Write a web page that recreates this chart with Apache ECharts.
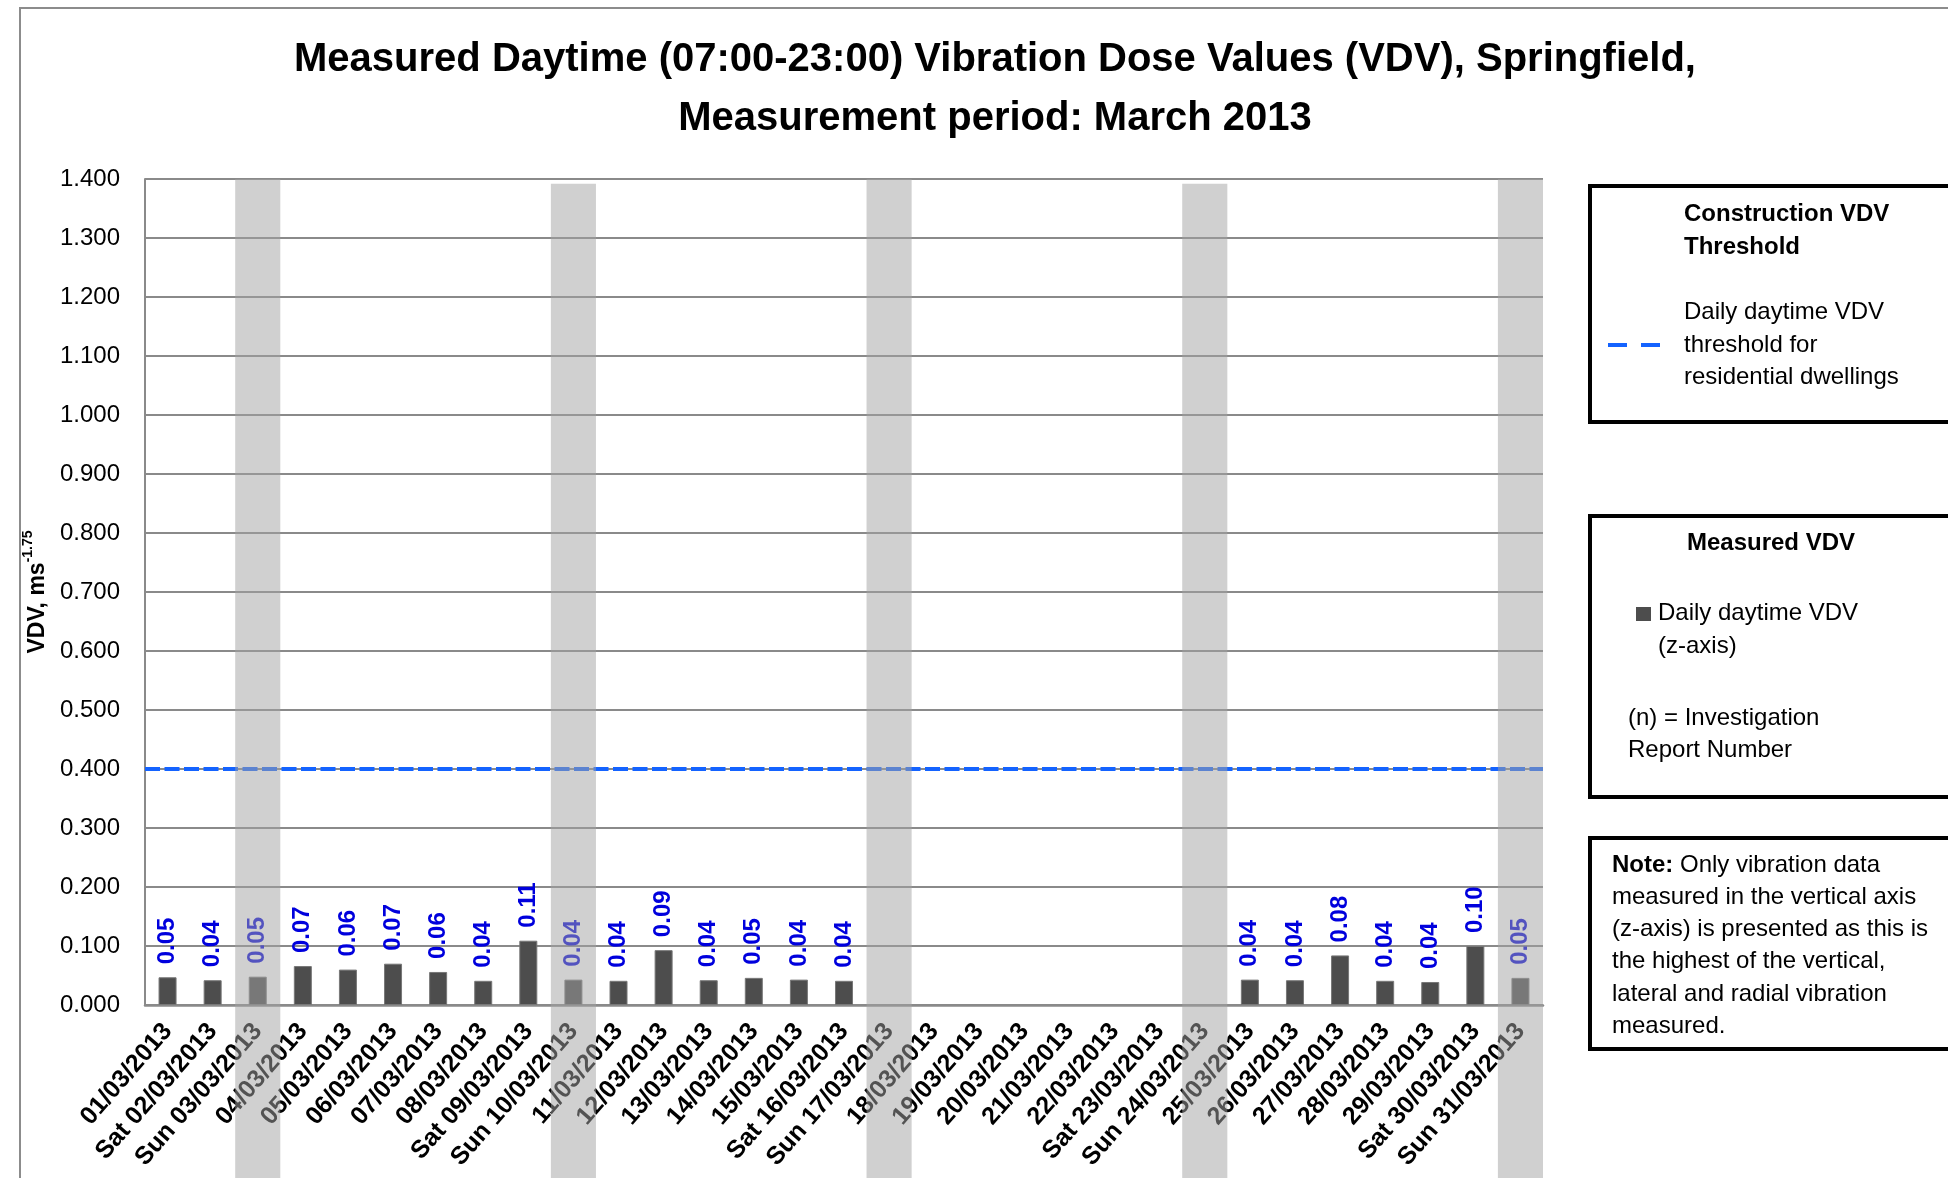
<!DOCTYPE html>
<html><head><meta charset="utf-8">
<script src="https://cdn.jsdelivr.net/npm/echarts@6/dist/echarts.min.js"></script>
<style>html,body{margin:0;padding:0;background:#fff}#c{width:1948px;height:1178px}</style>
</head><body><div id="c"></div>
<script>
const categories = ['01/03/2013','Sat 02/03/2013','Sun 03/03/2013','04/03/2013','05/03/2013','06/03/2013','07/03/2013','08/03/2013','Sat 09/03/2013','Sun 10/03/2013','11/03/2013','12/03/2013','13/03/2013','14/03/2013','15/03/2013','Sat 16/03/2013','Sun 17/03/2013','18/03/2013','19/03/2013','20/03/2013','21/03/2013','22/03/2013','Sat 23/03/2013','Sun 24/03/2013','25/03/2013','26/03/2013','27/03/2013','28/03/2013','29/03/2013','Sat 30/03/2013','Sun 31/03/2013'];
const dailyVDV = [0.047,0.042,0.048,0.066,0.060,0.070,0.056,0.041,0.109,0.043,0.041,0.093,0.042,0.046,0.043,0.041,null,null,null,null,null,null,null,null,0.043,0.042,0.084,0.041,0.039,0.100,0.046];
const weekendBands = ['Sun 03/03/2013','Sun 10/03/2013','Sun 17/03/2013','Sun 24/03/2013','Sun 31/03/2013'];
const bandTop = [1.4, 1.392, 1.4, 1.392, 1.4];
const threshold = 0.4;
const yMin = 0, yMax = 1.4, yInterval = 0.1;

const FONT = "'Liberation Sans', Arial, sans-serif";
const chart = echarts.init(document.getElementById('c'), null, {renderer: 'canvas'});

function txt(x, y, text, opts) {
  return {type: 'text', x: x, y: y, silent: true, style: Object.assign({text: text, fontFamily: FONT, fontSize: 24, fill: '#000', align: 'left', verticalAlign: 'middle'}, opts || {})};
}

const graphics = [
  {type: 'rect', silent: true, z: -10, shape: {x: 20, y: 8, width: 2100, height: 1400}, style: {fill: 'none', stroke: '#8c8c8c', lineWidth: 2}},
  txt(995, 60, 'Measured Daytime (07:00-23:00) Vibration Dose Values (VDV), Springfield,', {fontSize: 40, fontWeight: 'bold', align: 'center'}),
  txt(995, 119, 'Measurement period: March 2013', {fontSize: 40, fontWeight: 'bold', align: 'center'}),
  // legend box 1
  {type: 'rect', silent: true, shape: {x: 1590, y: 186, width: 500, height: 236}, style: {fill: '#fff', stroke: '#000', lineWidth: 4}},
  txt(1684, 214, 'Construction VDV', {fontWeight: 'bold'}),
  txt(1684, 247, 'Threshold', {fontWeight: 'bold'}),
  txt(1684, 312, 'Daily daytime VDV'),
  txt(1684, 345, 'threshold for'),
  txt(1684, 377, 'residential dwellings'),
  {type: 'line', silent: true, shape: {x1: 1608, y1: 345, x2: 1662, y2: 345}, style: {stroke: '#1463ff', lineWidth: 4, lineDash: [19, 14]}},
  // legend box 2
  {type: 'rect', silent: true, shape: {x: 1590, y: 516, width: 500, height: 281}, style: {fill: '#fff', stroke: '#000', lineWidth: 4}},
  txt(1771, 543, 'Measured VDV', {fontWeight: 'bold', align: 'center'}),
  {type: 'rect', silent: true, shape: {x: 1636, y: 607, width: 15, height: 14}, style: {fill: '#4d4d4d'}},
  txt(1658, 613, 'Daily daytime VDV'),
  txt(1658, 646, '(z-axis)'),
  txt(1628, 718, '(n) = Investigation'),
  txt(1628, 750, 'Report Number'),
  // note box
  {type: 'rect', silent: true, shape: {x: 1590, y: 838, width: 500, height: 211}, style: {fill: '#fff', stroke: '#000', lineWidth: 4}},
  {type: 'text', x: 1612, y: 865, silent: true, style: {text: '{b|Note:} Only vibration data', fontFamily: FONT, fontSize: 24, fill: '#000', verticalAlign: 'middle', rich: {b: {fontWeight: 'bold', fontSize: 24, fontFamily: FONT, color: '#000'}}}},
  txt(1612, 897, 'measured in the vertical axis'),
  txt(1612, 929, '(z-axis) is presented as this is'),
  txt(1612, 961, 'the highest of the vertical,'),
  txt(1612, 994, 'lateral and radial vibration'),
  txt(1612, 1026, 'measured.')
];

const option = {
  animation: false,
  backgroundColor: '#fff',
  textStyle: {fontFamily: FONT},
  grid: {left: 145, right: 405, top: 179, bottom: 173, containLabel: false},
  xAxis: {
    type: 'category', data: categories,
    axisLine: {show: true, lineStyle: {color: '#8a8a8a', width: 2.5}},
    axisTick: {show: false},
    axisLabel: {interval: 0, rotate: 49, margin: 22, fontSize: 25, fontWeight: 'bold', color: '#000', fontFamily: FONT},
    splitLine: {show: false}
  },
  yAxis: {
    type: 'value', min: yMin, max: yMax, interval: yInterval,
    name: '{a|VDV, ms}{s|-1.75}', nameLocation: 'middle', nameRotate: 90, nameGap: 93,
    nameTextStyle: {color: '#000', rich: {
      a: {fontSize: 23, fontWeight: 'bold', fontFamily: FONT, color: '#000', lineHeight: 28, verticalAlign: 'bottom'},
      s: {fontSize: 14, fontWeight: 'bold', fontFamily: FONT, color: '#000', lineHeight: 28, verticalAlign: 'top'}}},
    axisLine: {show: true, lineStyle: {color: '#8a8a8a', width: 2}},
    axisTick: {show: false},
    axisLabel: {fontSize: 24, color: '#000', margin: 25, fontFamily: FONT, formatter: v => v.toFixed(3)},
    splitLine: {show: true, lineStyle: {color: '#8a8a8a', width: 2}}
  },
  series: [
    {
      name: 'Daily daytime VDV (z-axis)', type: 'bar', data: dailyVDV, barWidth: 18, z: 2,
      itemStyle: {color: '#4d4d4d', borderColor: '#777', borderWidth: 1},
      label: {show: true, position: 'top', rotate: 90, align: 'left', verticalAlign: 'middle', distance: 13,
        fontSize: 24, fontWeight: 'bold', color: '#0000dd', fontFamily: FONT,
        formatter: p => (p.value == null ? '' : p.value.toFixed(2))},
      markLine: {silent: true, symbol: 'none', label: {show: false},
        lineStyle: {color: '#1463ff', width: 4, type: [15, 4.5]},
        data: [{yAxis: threshold}]}
    },
    {
      name: 'Weekend', type: 'custom', z: 10, clip: false, silent: true,
      data: weekendBands.map((c, i) => [c, bandTop[i]]),
      encode: {x: 0, y: 1},
      renderItem: function (params, api) {
        const top = api.coord([api.value(0), api.value(1)]);
        const w = api.size([1, 0])[0];
        return {type: 'rect', shape: {x: top[0] - w / 2, y: top[1], width: w, height: api.getHeight() - top[1]},
          style: {fill: 'rgba(162,162,162,0.51)'}};
      }
    }
  ],
  graphic: graphics
};
chart.setOption(option);
</script></body></html>
